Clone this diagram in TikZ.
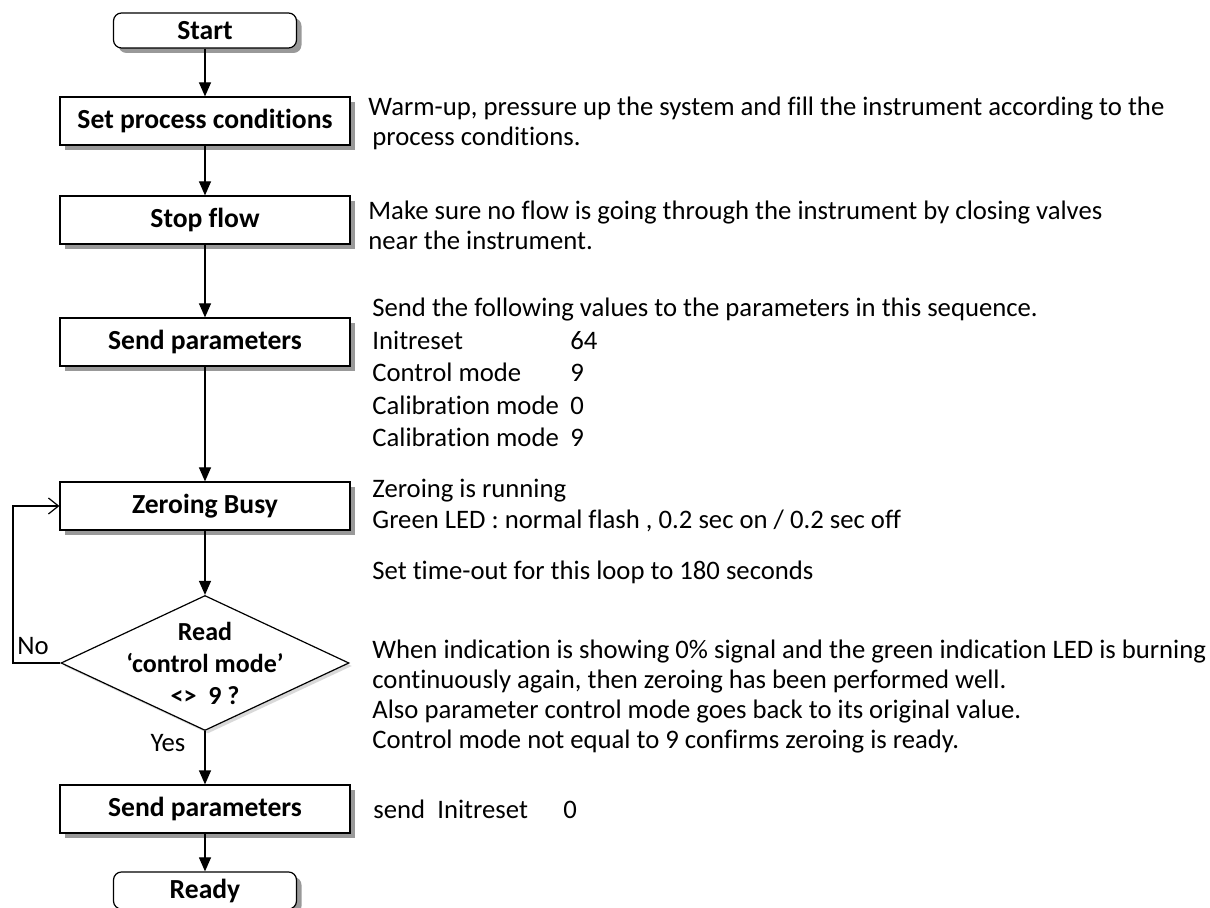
\documentclass[tikz,border=0pt]{standalone}
\usepackage{fontspec}
\setmainfont{Carlito}[Ligatures=NoCommon]
\usetikzlibrary{positioning,shapes.geometric,shadows,arrows.meta}

\begin{document}
\begin{tikzpicture}[x=0.5pt,y=-0.5pt,
	every node/.style={font=\fontsize{13.35}{16}\selectfont},
	stepbox/.style={rectangle,draw,fill=white,line width=0.6pt,minimum width=145pt,minimum height=24pt,
		font=\fontsize{13.8}{16}\selectfont\bfseries,
		drop shadow={shadow xshift=2.5pt,shadow yshift=-2.5pt,fill=black!40,opacity=1}},
	endbox/.style={stepbox,rounded corners=4pt,minimum width=91.5pt,minimum height=17.5pt},
	decision/.style={diamond,draw,fill=white,line width=0.6pt,inner sep=0pt,minimum width=144pt,minimum height=67.5pt,
		drop shadow={shadow xshift=1.5pt,shadow yshift=-1.5pt,fill=black!15,opacity=1}},
	note/.style={anchor=base west,align=left,inner sep=0pt},
	flow/.style={line width=0.6pt,-{Triangle[length=7pt,width=6pt]}},
	back/.style={line width=0.6pt,-{Straight Barb[length=5pt,width=8pt]}}]
	
	\useasboundingbox (0,0) rectangle (1210,908);
	
	% flow chart
	\node[endbox] (start) at (205,30.5) {Start};
	\node[stepbox] (setcond) at (205,121) {Set process conditions};
	\node[stepbox] (stopflow) at (205,220) {Stop flow};
	\node[stepbox] (sendpar) at (205,342) {Send parameters};
	\node[stepbox] (zerobusy) at (205,506) {Zeroing Busy};
	\node[decision] (readcm) at (205,663) {};
	\node[align=center,font=\fontsize{13}{16}\selectfont\bfseries] (readtxt) at (readcm) {Read\\‘control mode’\\<>\ \ 9 ?};
	\node[stepbox] (sendinit) at (205,809) {Send parameters};
	\node[endbox] (ready) at (205,890.5) {Ready};
	
	\draw[flow] (start) -- (setcond);
	\draw[flow] (setcond) -- (stopflow);
	\draw[flow] (stopflow) -- (sendpar);
	\draw[flow] (sendpar) -- (zerobusy);
	\draw[flow] (zerobusy) -- (readcm);
	\draw[flow] (readcm) -- (sendinit);
	\draw[flow] (sendinit) -- (ready);
	
	\draw[back] (readcm.west) -- (13,663) coordinate (nocorner) |- (zerobusy.west);
	\node (nolbl) at (33,646) {No};
	\node (yeslbl) at (168,743) {Yes};
	
	% notes (placed at the baseline of their last line)
	\node[note,font=\fontsize{13.35}{15}\selectfont] (notesetcond) at (368,146)
		{Warm-up, pressure up the system and fill the instrument according to the\\\hspace{2pt}process conditions.};
	\node[note,font=\fontsize{13.35}{15}\selectfont] (notestop) at (368,250)
		{Make sure no flow is going through the instrument by closing valves\\near the instrument.};
	\node[note,font=\fontsize{13.35}{16.25}\selectfont] (notesend) at (372,447)
		{Send the following values to the parameters in this sequence.\\
		\makebox[99pt][l]{Initreset}64\\
		\makebox[99pt][l]{Control mode}9\\
		\makebox[99pt][l]{Calibration mode}0\\
		\makebox[99pt][l]{Calibration mode}9};
	\node[note,font=\fontsize{13.35}{15.5}\selectfont] (notezero) at (372,529)
		{Zeroing is running\\Green LED : normal flash , 0.2 sec on / 0.2 sec off};
	\node[note] (notetimeout) at (372,580) {Set time-out for this loop to 180 seconds};
	\node[note,font=\fontsize{13.35}{15}\selectfont] (notecheck) at (372,748)
		{When indication is showing 0\% signal and the green indication LED is burning\\
		continuously again, then zeroing has been performed well.\\
		Also parameter control mode goes back to its original value.\\
		Control mode not equal to 9 confirms zeroing is ready.};
	\node[note] (notesendinit) at (373,818)
		{\makebox[32pt][l]{send}\makebox[63pt][l]{Initreset}0};
	
\end{tikzpicture}
\end{document}
